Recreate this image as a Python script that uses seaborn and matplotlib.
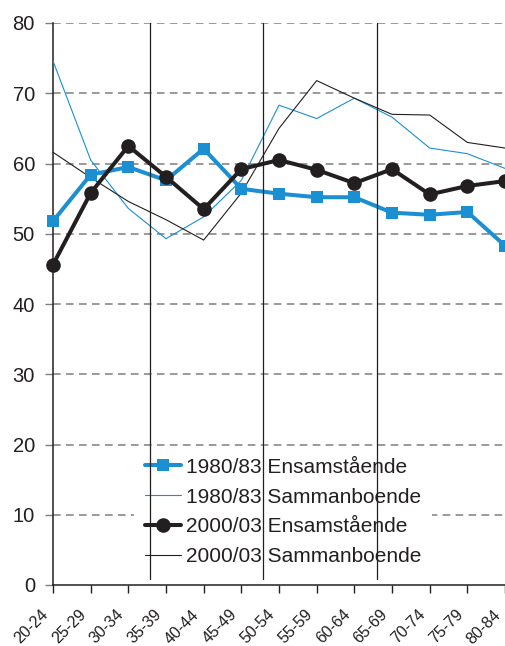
import numpy as np
import pandas as pd
import seaborn as sns
import matplotlib
matplotlib.use('Agg')
import matplotlib.pyplot as plt
import matplotlib.transforms as mtransforms

# Age groups and shares
age_groups = ['20-24', '25-29', '30-34', '35-39', '40-44', '45-49', '50-54',
              '55-59', '60-64', '65-69', '70-74', '75-79', '80-84']

ensam_1980 = [51.8, 58.4, 59.5, 57.6, 62.1, 56.4, 55.7, 55.2, 55.2, 53.0, 52.7, 53.1, 48.3]
samman_1980 = [74.6, 60.5, 53.6, 49.3, 52.4, 57.6, 68.3, 66.4, 69.3, 66.6, 62.2, 61.4, 59.3]
ensam_2000 = [45.6, 55.8, 62.5, 58.1, 53.5, 59.2, 60.5, 59.1, 57.2, 59.2, 55.6, 56.8, 57.5]
samman_2000 = [61.6, 58.0, 54.6, 52.0, 49.1, 55.8, 65.0, 71.8, 69.3, 67.0, 66.9, 63.0, 62.2]

series_labels = ['1980/83 Ensamstående', '1980/83 Sammanboende',
                 '2000/03 Ensamstående', '2000/03 Sammanboende']
y_ticks = [0, 10, 20, 30, 40, 50, 60, 70, 80]

BLUE = '#1a8fd2'
DARK = '#231f20'

sns.set_theme(style='white')
plt.rcParams['font.family'] = ['Liberation Sans', 'DejaVu Sans']

fig = plt.figure(figsize=(5.06, 6.46), dpi=100)
ax = fig.add_axes([53 / 506, 1 - 585 / 646, 452 / 506, 562 / 646])

x = np.arange(len(age_groups))
df = pd.DataFrame({'pos': x, 'e80': ensam_1980, 's80': samman_1980,
                   'e00': ensam_2000, 's00': samman_2000})

styles = [
    ('e80', dict(color=BLUE, linewidth=2.9, marker='s', markersize=8,
                 markeredgewidth=0), 4),
    ('s80', dict(color=BLUE, linewidth=0.8), 3),
    ('e00', dict(color=DARK, linewidth=2.9, marker='o', markersize=10.5,
                 markeredgewidth=0), 4),
    ('s00', dict(color=DARK, linewidth=0.8), 3),
]
for (col, kw, z), lab in zip(styles, series_labels):
    sns.lineplot(data=df, x='pos', y=col, ax=ax, label=lab, zorder=z,
                 clip_on=False, **kw)

# dashed horizontal gridlines
for v in y_ticks[1:]:
    ax.axhline(v, color='#7f7f7f', linewidth=1.1, linestyle=(0, (5, 3.5)), zorder=1)

# vertical separators
for xv in [2.57, 5.57, 8.6]:
    ax.plot([xv, xv], [0.8, 80], color=DARK, linewidth=0.9, zorder=6)

ax.set_xlim(0, 12)
ax.set_ylim(0, 80)
ax.set_xlabel('')
ax.set_ylabel('')

for side in ['top', 'right']:
    ax.spines[side].set_visible(False)
ax.spines['left'].set_color(DARK)
ax.spines['bottom'].set_color(DARK)
ax.spines['left'].set_linewidth(1.1)
ax.spines['bottom'].set_linewidth(1.1)
ax.tick_params(axis='y', length=6, width=1, color='#7f7f7f', pad=7, left=True)
ax.tick_params(axis='x', length=6, width=1, color=DARK, pad=4, bottom=True)

ax.set_yticks(y_ticks)
ax.set_yticklabels([str(v) for v in y_ticks], fontsize=14.5, color=DARK)
ax.set_xticks(x)
ax.set_xticklabels(age_groups, rotation=45, ha='right', rotation_mode='anchor',
                   fontsize=11.5, color=DARK)
# nudge rotated labels down-left like the original
shift = mtransforms.ScaledTranslation(-12 / 100, -8 / 100, fig.dpi_scale_trans)
for lbl in ax.get_xticklabels():
    lbl.set_transform(lbl.get_transform() + shift)

leg = ax.legend(loc='upper left', bbox_to_anchor=(0.18, 0.245), frameon=True,
                fontsize=15, handlelength=1.75, handletextpad=0.25,
                labelspacing=0.52, borderpad=0.5, borderaxespad=0)
leg.get_frame().set_facecolor('white')
leg.get_frame().set_edgecolor('none')
leg.get_frame().set_alpha(1)
leg.set_zorder(5)
for t in leg.get_texts():
    t.set_color(DARK)

fig.savefig('out.png', dpi=100)
